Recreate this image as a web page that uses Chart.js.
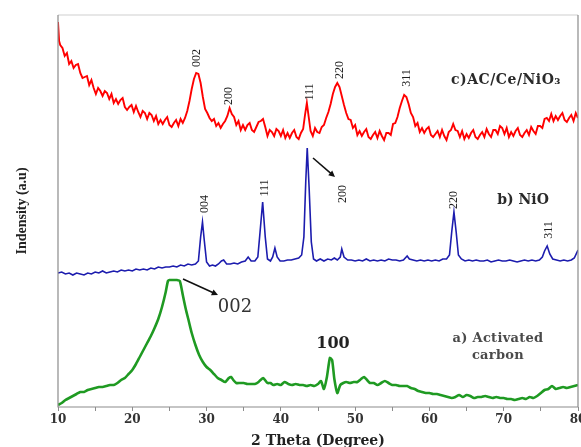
<!DOCTYPE html>
<html>
<head>
<meta charset="utf-8">
<script src="https://cdn.jsdelivr.net/npm/chart.js@4"></script>
<style>
  html, body { margin: 0; padding: 0; background: #fff; }
  #wrap { width: 581px; height: 447px; }
</style>
</head>
<body>
<div id="wrap"><canvas id="xrd" width="581" height="447"></canvas></div>
<script>
// 2 theta tick labels
const xTicks = [10, 20, 30, 40, 50, 60, 70, 80];

// [2 theta, intensity (a.u)]
const redPattern = [
  [10.0,385],[10.15,366],[10.3,362],[10.6,359],[10.9,351],[11.2,354],[11.5,343],[11.8,346],[12.1,339],[12.4,342],
  [12.7,343],[13.0,334],[13.3,329],[13.6,330],[13.9,331],[14.2,322],[14.5,327],[14.8,319],[15.1,313],[15.4,319],
  [15.7,316],[16.0,311],[16.3,316],[16.6,314],[16.9,308],[17.2,313],[17.5,304],[17.8,308],[18.1,303],[18.4,307],
  [18.7,309],[19.0,300],[19.3,297],[19.6,300],[19.9,302],[20.2,295],[20.5,301],[20.8,295],[21.1,290],[21.4,296],
  [21.7,294],[22.0,288],[22.3,294],[22.6,292],[22.9,286],[23.2,291],[23.5,283],[23.8,287],[24.1,283],[24.4,287],
  [24.7,290],[25.0,282],[25.3,280],[25.6,284],[25.9,287],[26.2,281],[26.5,288],[26.8,284],[27.1,289],[27.4,296],
  [27.7,306],[28.0,318],[28.3,328],[28.6,334],[28.9,333],[29.2,324],[29.5,310],[29.8,298],[30.1,294],[30.4,289],
  [30.7,286],[31.0,288],[31.3,281],[31.6,284],[31.9,279],[32.2,283],[32.5,286],[32.8,291],[33.1,299],[33.4,293],
  [33.7,290],[34.0,282],[34.3,286],[34.6,277],[34.9,282],[35.2,277],[35.5,282],[35.8,284],[36.1,277],[36.4,275],
  [36.7,280],[37.0,285],[37.3,286],[37.6,288],[37.9,280],[38.2,271],[38.5,277],[38.8,275],[39.1,271],[39.4,278],
  [39.7,276],[40.0,271],[40.3,277],[40.6,269],[40.9,274],[41.2,269],[41.5,274],[41.8,277],[42.1,270],[42.4,268],
  [42.7,274],[43.0,278],[43.25,292],[43.5,304],[43.75,290],[44.0,276],[44.3,271],[44.6,279],[44.9,275],[45.2,274],
  [45.5,280],[45.8,282],[46.1,289],[46.4,295],[46.7,303],[47.0,313],[47.3,320],[47.6,324],[47.9,320],[48.2,311],
  [48.5,302],[48.8,294],[49.1,288],[49.4,287],[49.7,279],[50.0,282],[50.3,272],[50.6,276],[50.9,271],[51.2,275],
  [51.5,278],[51.8,270],[52.1,268],[52.4,272],[52.7,275],[53.0,269],[53.3,276],[53.6,271],[53.9,267],[54.2,274],
  [54.5,274],[54.8,272],[55.1,283],[55.4,284],[55.7,290],[56.0,299],[56.3,306],[56.6,312],[56.9,310],[57.2,303],
  [57.5,294],[57.8,290],[58.1,281],[58.4,284],[58.7,275],[59.0,279],[59.3,274],[59.6,278],[59.9,280],[60.2,272],
  [60.5,270],[60.8,273],[61.1,276],[61.4,270],[61.7,277],[62.0,271],[62.3,267],[62.6,275],[62.9,277],[63.2,283],
  [63.5,277],[63.8,276],[64.1,270],[64.4,276],[64.7,268],[65.0,273],[65.3,269],[65.6,274],[65.9,277],[66.2,270],
  [66.5,268],[66.8,272],[67.1,275],[67.4,270],[67.7,278],[68.0,273],[68.3,270],[68.6,277],[68.9,277],[69.2,273],
  [69.5,281],[69.8,279],[70.1,273],[70.4,279],[70.7,270],[71.0,275],[71.3,271],[71.6,276],[71.9,279],[72.2,272],
  [72.5,270],[72.8,274],[73.1,277],[73.4,272],[73.7,280],[74.0,276],[74.3,273],[74.6,281],[74.9,281],[75.2,279],
  [75.5,288],[75.8,289],[76.1,286],[76.4,293],[76.7,286],[77.0,291],[77.3,287],[77.6,291],[77.9,294],[78.2,287],
  [78.5,285],[78.8,289],[79.1,292],[79.4,286],[79.7,294],[80.0,289]
];

const bluePattern = [
  [10.0,134],[10.5,135],[11.0,133],[11.5,134],[12.0,132],[12.5,134],[13.0,133],[13.5,132],[14.0,134],[14.5,133],
  [15.0,135],[15.5,134],[16.0,136],[16.5,134],[17.0,135],[17.5,136],[18.0,135],[18.5,137],[19.0,136],[19.5,137],
  [20.0,136],[20.5,138],[21.0,137],[21.5,138],[22.0,137],[22.5,139],[23.0,138],[23.5,140],[24.0,139],[24.5,140],
  [25.0,140],[25.5,141],[26.0,140],[26.5,142],[27.0,141],[27.5,143],[28.0,142],[28.5,143],[28.9,146],[29.2,170],
  [29.45,185],[29.7,166],[30.0,145],[30.4,141],[30.8,142],[31.2,141],[31.6,143],[32.0,146],[32.3,147],[32.7,143],
  [33.2,143],[33.7,144],[34.2,143],[34.7,145],[35.2,146],[35.6,150],[36.0,146],[36.5,146],[36.9,150],[37.2,175],
  [37.55,205],[37.9,170],[38.2,148],[38.6,146],[38.9,150],[39.2,159],[39.5,150],[39.9,146],[40.4,146],[40.9,147],
  [41.4,147],[41.9,148],[42.4,149],[42.8,152],[43.1,170],[43.35,225],[43.55,259],[43.8,220],[44.1,165],[44.4,148],
  [44.8,146],[45.3,148],[45.8,146],[46.3,148],[46.8,147],[47.2,149],[47.6,147],[48.0,150],[48.2,158],[48.5,150],
  [49.0,147],[49.5,147],[50.0,146],[50.5,147],[51.0,146],[51.5,148],[52.0,146],[52.5,147],[53.0,146],[53.5,147],
  [54.0,146],[54.5,148],[55.0,147],[55.5,147],[56.0,146],[56.5,147],[57.0,151],[57.3,148],[57.8,147],[58.3,146],
  [58.8,147],[59.3,146],[59.8,147],[60.3,146],[60.8,147],[61.3,146],[61.8,148],[62.3,148],[62.7,152],[63.0,175],
  [63.3,195],[63.6,175],[63.9,152],[64.3,148],[64.8,146],[65.3,147],[65.8,146],[66.3,147],[66.8,146],[67.3,146],
  [67.8,147],[68.3,145],[68.8,146],[69.3,147],[69.8,146],[70.3,146],[70.8,147],[71.3,146],[71.8,145],[72.3,146],
  [72.8,147],[73.3,146],[73.8,147],[74.3,146],[74.8,147],[75.2,150],[75.5,156],[75.85,161],[76.2,153],[76.6,148],
  [77.1,147],[77.6,146],[78.1,147],[78.6,146],[79.1,147],[79.5,149],[80.0,157]
];

const greenPattern = [
  [10.0,2],[10.5,4],[11.0,7],[11.5,9],[12.0,11],[12.5,13],[13.0,15],[13.5,15],[14.0,17],[14.5,18],
  [15.0,19],[15.5,20],[16.0,20],[16.5,21],[17.0,22],[17.5,22],[18.0,24],[18.5,27],[19.0,29],[19.5,33],
  [20.0,37],[20.5,43],[21.0,50],[21.5,57],[22.0,64],[22.5,71],[23.0,79],[23.5,88],[24.0,100],[24.5,115],
  [24.8,126],[25.0,127],[25.5,127],[26.0,127],[26.4,126],[26.8,112],[27.2,98],[27.6,86],[28.0,74],[28.5,62],
  [29.0,52],[29.5,45],[30.0,40],[30.5,37],[31.0,33],[31.5,29],[32.0,27],[32.5,25],[33.0,29],[33.3,30],
  [33.6,27],[34.0,24],[34.5,24],[35.0,24],[35.5,23],[36.0,23],[36.5,23],[37.0,25],[37.6,29],[38.2,24],
  [38.6,24],[39.0,22],[39.5,23],[40.0,22],[40.5,25],[41.0,23],[41.5,22],[42.0,23],[42.5,22],[43.0,22],
  [43.5,21],[44.0,22],[44.5,21],[45.0,23],[45.4,26],[45.8,18],[46.2,30],[46.6,49],[46.9,47],[47.2,28],
  [47.6,14],[48.0,22],[48.4,24],[48.8,25],[49.3,24],[49.8,25],[50.3,25],[50.8,28],[51.2,30],[51.6,27],
  [52.0,24],[52.5,24],[53.0,22],[53.5,24],[54.0,26],[54.5,24],[55.0,22],[55.5,22],[56.0,21],[56.5,21],
  [57.0,21],[57.5,19],[58.0,18],[58.5,16],[59.0,15],[59.5,14],[60.0,14],[60.5,13],[61.0,13],[61.5,12],
  [62.0,11],[62.5,10],[63.0,9],[63.5,10],[64.0,12],[64.5,10],[65.0,12],[65.5,11],[66.0,9],[66.5,10],
  [67.0,10],[67.5,11],[68.0,10],[68.5,9],[69.0,10],[69.5,9],[70.0,9],[70.5,8],[71.0,8],[71.5,7],
  [72.0,8],[72.5,9],[73.0,8],[73.5,10],[74.0,9],[74.5,11],[75.0,14],[75.5,17],[76.0,18],[76.5,21],
  [77.0,18],[77.5,19],[78.0,20],[78.5,19],[79.0,20],[79.5,21],[80.0,22]
];

// hkl labels (rotated) at [2 theta, intensity]
const peakLabels = [
  { text: "002", at: [28.71, 349] },
  { text: "200", at: [33.02, 311] },
  { text: "111", at: [43.92, 315] },
  { text: "220", at: [47.96, 337] },
  { text: "311", at: [56.98, 329] },
  { text: "004", at: [29.79, 203] },
  { text: "111", at: [37.87, 219] },
  { text: "200", at: [48.37, 213] },
  { text: "220", at: [63.31, 207] },
  { text: "311", at: [76.10, 177] }
];

const sampleLabels = [
  { text: "c)AC/Ce/NiO\u2083", at: [70.31, 327], kind: "c" },
  { text: "b) NiO", at: [72.60, 207], kind: "b" },
  { text: "a) Activated", at: [69.23, 68], kind: "a" },
  { text: "carbon", at: [69.23, 51], kind: "a" },
  { text: "002", at: [33.83, 100], kind: "big" },
  { text: "100", at: [47.02, 63], kind: "bold" }
];

const arrows = [
  { from: [44.33, 249], to: [47.29, 230] },
  { from: [26.83, 128], to: [31.54, 112] }
];

const toXY = (p) => p.map(([x, y]) => ({ x, y }));

const overlay = {
  id: "overlay",
  afterDatasetsDraw(chart) {
    const ctx = chart.ctx;
    const xs = chart.scales.x, ys = chart.scales.y;
    const a = chart.chartArea;
    const px = (v) => xs.getPixelForValue(v[0]);
    const py = (v) => ys.getPixelForValue(v[1]);
    ctx.save();

    // frame
    ctx.lineWidth = 1.2;
    ctx.strokeStyle = "#d0d0d0";
    ctx.beginPath();
    ctx.moveTo(a.left, a.top);
    ctx.lineTo(a.right, a.top);
    ctx.stroke();
    ctx.strokeStyle = "#8c8c8c";
    ctx.beginPath();
    ctx.moveTo(a.left, a.top);
    ctx.lineTo(a.left, a.bottom);
    ctx.lineTo(a.right, a.bottom);
    ctx.moveTo(a.right, a.top);
    ctx.lineTo(a.right, a.bottom);
    ctx.stroke();

    // hkl labels
    ctx.textAlign = "center";
    ctx.textBaseline = "middle";
    peakLabels.forEach((p) => {
      ctx.save();
      ctx.translate(px(p.at), py(p.at));
      ctx.rotate(-Math.PI / 2);
      ctx.font = "12px 'Liberation Serif'";
      ctx.fillStyle = "#1e1e1e";
      ctx.fillText(p.text, 0, 0);
      ctx.restore();
    });

    sampleLabels.forEach((s) => {
      ctx.save();
      if (s.kind === "c") {
        ctx.font = "bold 14px 'DejaVu Serif'";
        ctx.letterSpacing = "0.5px";
        ctx.fillStyle = "#2a2a2a";
      } else if (s.kind === "b") {
        ctx.font = "bold 14px 'DejaVu Serif'";
        ctx.fillStyle = "#2a2a2a";
      } else if (s.kind === "a") {
        ctx.font = "bold 13px 'DejaVu Serif'";
        ctx.letterSpacing = "0.3px";
        ctx.fillStyle = "#4a4a4a";
      } else if (s.kind === "big") {
        ctx.font = "18px 'DejaVu Serif'";
        ctx.fillStyle = "#333";
      } else {
        ctx.font = "bold 16px 'DejaVu Serif'";
        ctx.fillStyle = "#222";
      }
      ctx.fillText(s.text, px(s.at), py(s.at));
      ctx.restore();
    });

    // arrows
    ctx.strokeStyle = "#111";
    ctx.fillStyle = "#111";
    ctx.lineWidth = 1.6;
    arrows.forEach((ar) => {
      const x1 = px(ar.from), y1 = py(ar.from);
      const x2 = px(ar.to), y2 = py(ar.to);
      const ang = Math.atan2(y2 - y1, x2 - x1);
      ctx.beginPath();
      ctx.moveTo(x1, y1);
      ctx.lineTo(x2 - 4 * Math.cos(ang), y2 - 4 * Math.sin(ang));
      ctx.stroke();
      ctx.beginPath();
      ctx.moveTo(x2, y2);
      ctx.lineTo(x2 - 7 * Math.cos(ang - 0.45), y2 - 7 * Math.sin(ang - 0.45));
      ctx.lineTo(x2 - 7 * Math.cos(ang + 0.45), y2 - 7 * Math.sin(ang + 0.45));
      ctx.closePath();
      ctx.fill();
    });
    ctx.restore();
  }
};

new Chart(document.getElementById("xrd"), {
  type: "line",
  data: {
    datasets: [
      { label: "a) Activated carbon", data: toXY(greenPattern), borderColor: "#1f9a22", borderWidth: 2.6, tension: 0.2 },
      { label: "b) NiO", data: toXY(bluePattern), borderColor: "#1c1cae", borderWidth: 1.6, tension: 0 },
      { label: "c) AC/Ce/NiO3", data: toXY(redPattern), borderColor: "#ff0000", borderWidth: 1.9, tension: 0 }
    ]
  },
  options: {
    responsive: false,
    animation: false,
    devicePixelRatio: 1,
    layout: { padding: { top: 15, right: 3, bottom: 0, left: 0 } },
    elements: { point: { radius: 0 } },
    plugins: { legend: { display: false }, tooltip: { enabled: false } },
    scales: {
      x: {
        type: "linear",
        min: xTicks[0],
        max: xTicks[xTicks.length - 1],
        border: { display: false },
        grid: { drawOnChartArea: false, drawTicks: true, tickLength: 4, color: "#8c8c8c" },
        ticks: {
          stepSize: 5,
          maxRotation: 0,
          padding: 2,
          color: "#333",
          font: { family: "DejaVu Serif", size: 12, weight: "bold" },
          callback: (v) => (xTicks.includes(v) ? String(v) : "")
        },
        title: {
          display: true,
          text: "2 Theta (Degree)",
          color: "#222",
          font: { family: "DejaVu Serif", size: 14, weight: "bold" },
          padding: { top: 0, bottom: -3 }
        },
        afterFit: (s) => { s.height = 40; s.paddingLeft = 0; s.paddingRight = 0; }
      },
      y: {
        min: 0,
        max: 392,
        border: { display: false },
        grid: { display: false },
        ticks: { display: false },
        title: {
          display: true,
          text: "Indensity (a.u)",
          color: "#222",
          font: { family: "Liberation Serif", size: 14, weight: "bold" },
          padding: { top: 14, bottom: 0 }
        },
        afterFit: (s) => { s.width = 58; }
      }
    }
  },
  plugins: [overlay]
});
</script>
</body>
</html>
